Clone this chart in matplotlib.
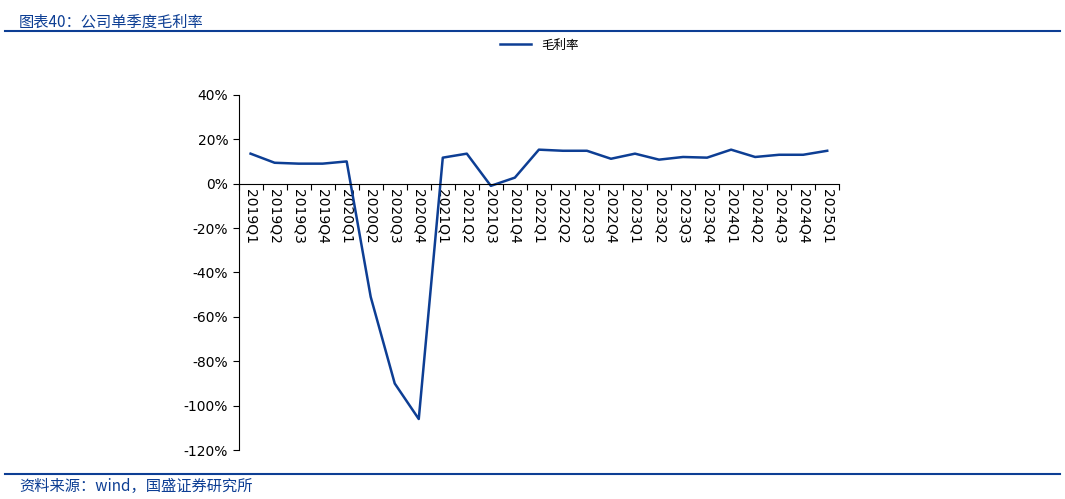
import matplotlib
matplotlib.use("Agg")
import matplotlib.pyplot as plt
from matplotlib.ticker import FuncFormatter
from matplotlib.lines import Line2D

plt.rcParams['font.family'] = ['Noto Sans CJK SC', 'DejaVu Sans']

quarters = ["2019Q1","2019Q2","2019Q3","2019Q4","2020Q1","2020Q2","2020Q3","2020Q4",
            "2021Q1","2021Q2","2021Q3","2021Q4","2022Q1","2022Q2","2022Q3","2022Q4",
            "2023Q1","2023Q2","2023Q3","2023Q4","2024Q1","2024Q2","2024Q3","2024Q4","2025Q1"]
gross_margin = [13.5, 9.4, 9.0, 9.0, 10.0, -51, -90, -106, 11.7, 13.5, -1.0, 2.7, 15.3, 14.8,
                14.8, 11.2, 13.5, 10.8, 12.0, 11.7, 15.3, 12.0, 13.0, 13.0, 14.8]

navy = "#0D3E94"
fig = plt.figure(figsize=(10.65, 4.99), dpi=100)
ax = fig.add_axes([0.224, 0.098, 0.564, 0.712])
x = range(len(quarters))
ax.plot(x, gross_margin, color=navy, lw=1.8, label="毛利率")
ax.set_xlim(-0.5, len(quarters) - 0.5)
ax.set_ylim(-120, 40)
ax.set_yticks(range(-120, 41, 20))
ax.yaxis.set_major_formatter(FuncFormatter(lambda v, p: f"{int(v)}%"))
for s in ["top", "right"]:
    ax.spines[s].set_visible(False)
ax.spines["bottom"].set_position(("data", 0))
ax.spines["left"].set_color("black")
ax.set_xticks([i - 0.5 for i in range(len(quarters) + 1)], minor=False)
ax.set_xticklabels([])
ax.set_xticks(list(x), minor=True)
ax.set_xticklabels(quarters, minor=True, rotation=270, fontsize=10, fontfamily="DejaVu Sans")
ax.tick_params(axis="x", which="minor", length=0, pad=4)
ax.tick_params(axis="x", which="major", length=4, direction="out")
ax.tick_params(axis="y", labelsize=10, length=4, direction="out")
for lab in ax.get_yticklabels():
    lab.set_fontfamily("DejaVu Sans")
ax.legend(loc="upper center", bbox_to_anchor=(0.5, 1.19), frameon=False, fontsize=9, handlelength=2.5)

fig.text(0.018, 0.972, "图表40：公司单季度毛利率", fontsize=11, color=navy, style="italic", va="top")
fig.add_artist(Line2D([0.005, 0.995], [0.937, 0.937], color=navy, lw=1.5))
fig.add_artist(Line2D([0.005, 0.995], [0.05, 0.05], color=navy, lw=1.5))
fig.text(0.018, 0.042, "资料来源：wind，国盛证券研究所", fontsize=11, color=navy, style="italic", va="top")

fig.savefig("out.png", dpi=100)
